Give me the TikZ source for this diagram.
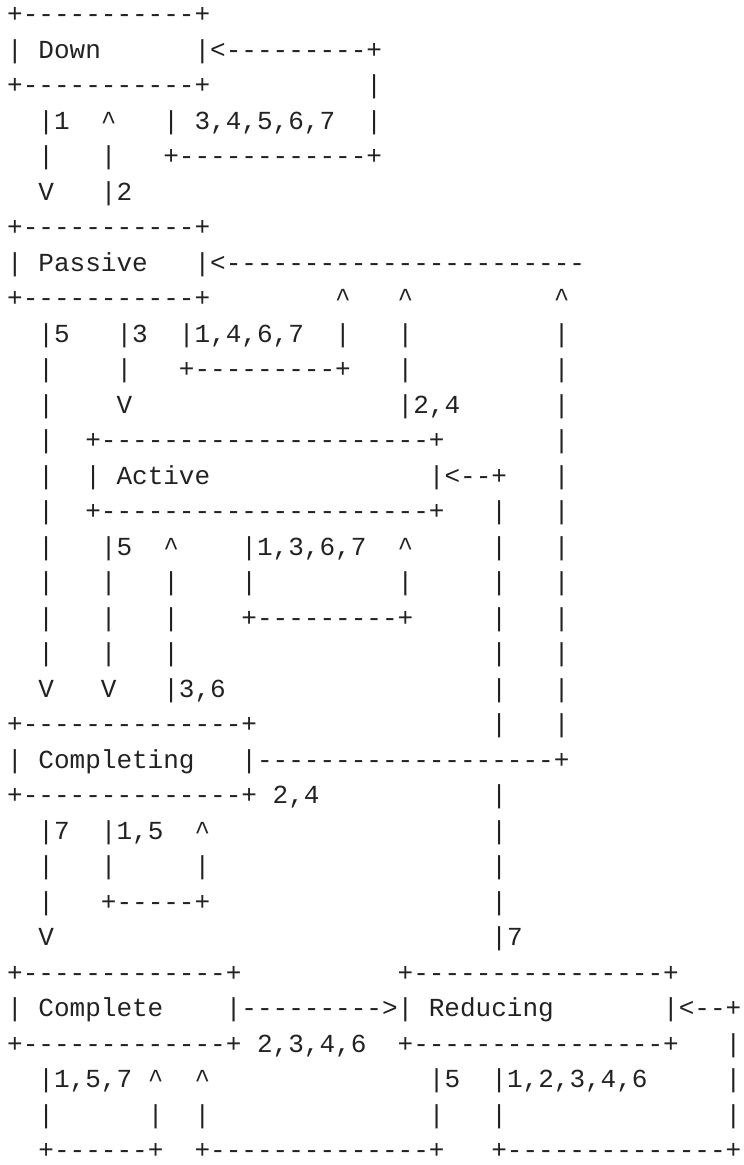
\documentclass[tikz,border=0pt]{standalone}
\usepackage{fontspec}
\setmonofont{Liberation Mono}
\usepackage{tikz}

\definecolor{ink}{RGB}{34,34,34}
\newcommand{\pad}[1]{\hspace*{#1\fontcharwd\font`\-}}
\newcommand{\caret}{\textasciicircum}

\begin{document}
\begin{tikzpicture}[x=15.62pt, y=-35.5pt,
    ascii/.style={anchor=base west, inner sep=0pt, outer sep=0pt, text=ink,
        font=\ttfamily\fontsize{26.03pt}{35.5pt}\selectfont}]
    \useasboundingbox (-0.460,0.366) rectangle (47.171,33.183);
    % Down
    \node[ascii] (r1) at (0,1) {+-----------+};
    \node[ascii] (r2) at (0,2) {|\pad{1}Down\pad{6}|<---------+};
    \node[ascii] (r3) at (0,3) {+-----------+\pad{10}|};
    \node[ascii] (r4) at (0,4) {\pad{2}|1\pad{2}\caret\pad{3}|\pad{1}3,4,5,6,7\pad{2}|};
    \node[ascii] (r5) at (0,5) {\pad{2}|\pad{3}|\pad{3}+------------+};
    \node[ascii] (r6) at (0,6) {\pad{2}V\pad{3}|2};
    % Passive
    \node[ascii] (r7) at (0,7) {+-----------+};
    \node[ascii] (r8) at (0,8) {|\pad{1}Passive\pad{3}|<-----------------------};
    \node[ascii] (r9) at (0,9) {+-----------+\pad{8}\caret\pad{3}\caret\pad{9}\caret};
    \node[ascii] (r10) at (0,10) {\pad{2}|5\pad{3}|3\pad{2}|1,4,6,7\pad{2}|\pad{3}|\pad{9}|};
    \node[ascii] (r11) at (0,11) {\pad{2}|\pad{4}|\pad{3}+---------+\pad{3}|\pad{9}|};
    \node[ascii] (r12) at (0,12) {\pad{2}|\pad{4}V\pad{17}|2,4\pad{6}|};
    % Active
    \node[ascii] (r13) at (0,13) {\pad{2}|\pad{2}+---------------------+\pad{7}|};
    \node[ascii] (r14) at (0,14) {\pad{2}|\pad{2}|\pad{1}Active\pad{14}|<--+\pad{3}|};
    \node[ascii] (r15) at (0,15) {\pad{2}|\pad{2}+---------------------+\pad{3}|\pad{3}|};
    \node[ascii] (r16) at (0,16) {\pad{2}|\pad{3}|5\pad{2}\caret\pad{4}|1,3,6,7\pad{2}\caret\pad{5}|\pad{3}|};
    \node[ascii] (r17) at (0,17) {\pad{2}|\pad{3}|\pad{3}|\pad{4}|\pad{9}|\pad{5}|\pad{3}|};
    \node[ascii] (r18) at (0,18) {\pad{2}|\pad{3}|\pad{3}|\pad{4}+---------+\pad{5}|\pad{3}|};
    \node[ascii] (r19) at (0,19) {\pad{2}|\pad{3}|\pad{3}|\pad{20}|\pad{3}|};
    \node[ascii] (r20) at (0,20) {\pad{2}V\pad{3}V\pad{3}|3,6\pad{17}|\pad{3}|};
    % Completing
    \node[ascii] (r21) at (0,21) {+--------------+\pad{15}|\pad{3}|};
    \node[ascii] (r22) at (0,22) {|\pad{1}Completing\pad{3}|-------------------+};
    \node[ascii] (r23) at (0,23) {+--------------+\pad{1}2,4\pad{11}|};
    \node[ascii] (r24) at (0,24) {\pad{2}|7\pad{2}|1,5\pad{2}\caret\pad{18}|};
    \node[ascii] (r25) at (0,25) {\pad{2}|\pad{3}|\pad{5}|\pad{18}|};
    \node[ascii] (r26) at (0,26) {\pad{2}|\pad{3}+-----+\pad{18}|};
    \node[ascii] (r27) at (0,27) {\pad{2}V\pad{28}|7};
    % Complete, Reducing
    \node[ascii] (r28) at (0,28) {+-------------+\pad{10}+----------------+};
    \node[ascii] (r29) at (0,29) {|\pad{1}Complete\pad{4}|--------->|\pad{1}Reducing\pad{7}|<--+};
    \node[ascii] (r30) at (0,30) {+-------------+\pad{1}2,3,4,6\pad{2}+----------------+\pad{3}|};
    \node[ascii] (r31) at (0,31) {\pad{2}|1,5,7\pad{1}\caret\pad{2}\caret\pad{14}|5\pad{2}|1,2,3,4,6\pad{5}|};
    \node[ascii] (r32) at (0,32) {\pad{2}|\pad{6}|\pad{2}|\pad{14}|\pad{3}|\pad{14}|};
    \node[ascii] (r33) at (0,33) {\pad{2}+------+\pad{2}+--------------+\pad{3}+--------------+};
\end{tikzpicture}
\end{document}
